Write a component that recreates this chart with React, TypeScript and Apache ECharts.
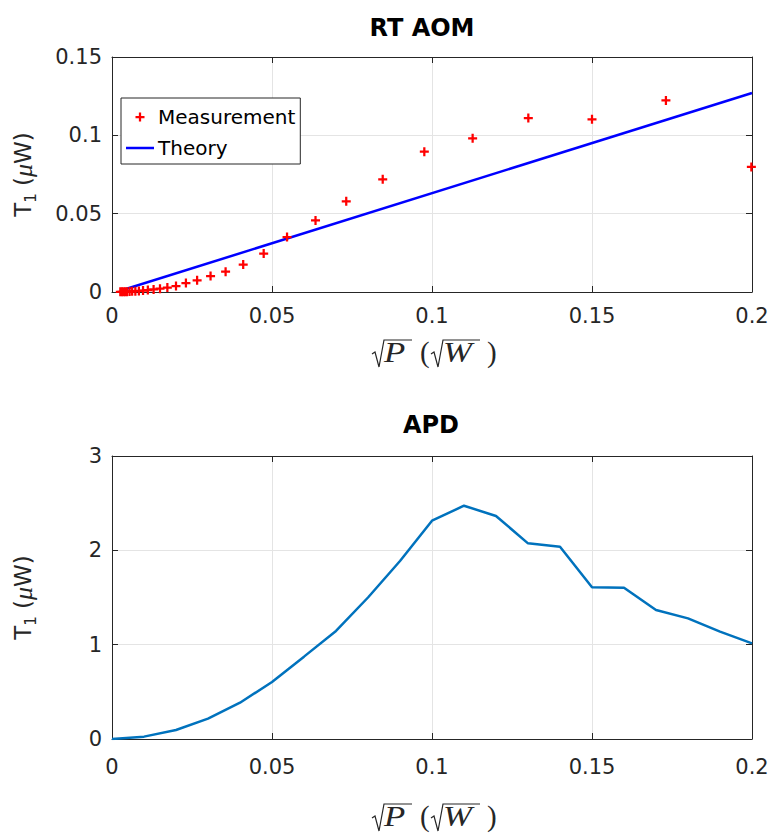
import React, { useEffect, useRef } from "react";
import * as echarts from "echarts";

// ---- Data ----
const measX = [0.0026, 0.0031, 0.0036, 0.0041, 0.0047, 0.0055, 0.0063, 0.0073, 0.0084, 0.0097, 0.0112, 0.013, 0.015, 0.0173, 0.02, 0.0231, 0.0266, 0.0308, 0.0355, 0.041, 0.0474, 0.0547, 0.0636, 0.0732, 0.0846, 0.0976, 0.1127, 0.1301, 0.15, 0.1731, 0.1998];
const measY = [0.0001, 0.0001, 0.0001, 0.0002, 0.0002, 0.0003, 0.0004, 0.0005, 0.0007, 0.0009, 0.0012, 0.0016, 0.0021, 0.0028, 0.0038, 0.0057, 0.0075, 0.0102, 0.013, 0.0175, 0.0245, 0.0351, 0.0457, 0.0579, 0.0719, 0.0896, 0.0981, 0.111, 0.1102, 0.1223, 0.0798];
const theoryX = [0.0026, 0.2];
const theoryY = [0.0008, 0.127];
const apdX = [0, 0.01, 0.02, 0.03, 0.04, 0.05, 0.06, 0.07, 0.08, 0.09, 0.1, 0.11, 0.12, 0.13, 0.14, 0.15, 0.16, 0.17, 0.18, 0.19, 0.2];
const apdY = [0, 0.025, 0.095, 0.216, 0.385, 0.604, 0.873, 1.145, 1.5, 1.887, 2.314, 2.473, 2.364, 2.074, 2.039, 1.608, 1.604, 1.367, 1.279, 1.138, 1.014];
const titles = ["RT AOM", "APD"];
const legendNames = ["Measurement", "Theory"];

const AX = "#262626";
const SANS = "'DejaVu Sans', 'Liberation Sans', Arial, sans-serif";
const SERIF = "'Liberation Serif', 'Times New Roman', serif";
const FS = 21;
const PLUS = "path://M3.75,0H6.25V3.75H10V6.25H6.25V10H3.75V6.25H0V3.75H3.75Z";
const LINEICON = "path://M0,0H28V2.5H0Z";

const yName = "{t|T}{s|1}{t| (}{m|μ}{t|W)}";
const yNameStyle = {
  color: AX,
  fontFamily: SANS,
  fontSize: 23,
  rich: {
    t: { fontSize: 23, fontFamily: SANS, color: AX, lineHeight: 30 },
    s: { fontSize: 15, fontFamily: SANS, color: AX, lineHeight: 15, verticalAlign: "bottom" },
    m: { fontSize: 26, fontFamily: SERIF, fontStyle: "italic", color: AX, lineHeight: 30 },
  },
};

function xAxes(gridIndex: number, labelMargin: number) {
  const common = {
    gridIndex,
    type: "value",
    min: 0,
    max: 0.2,
    interval: 0.05,
    axisLine: { show: true, onZero: false, lineStyle: { color: AX, width: 1 } },
    axisTick: { show: true, inside: true, length: 6, lineStyle: { color: AX } },
  };
  return [
    {
      ...common,
      position: "bottom",
      axisLabel: { fontSize: FS, color: AX, fontFamily: SANS, margin: labelMargin },
      splitLine: { show: true, lineStyle: { color: "#e4e4e4", width: 1 } },
    },
    {
      ...common,
      position: "top",
      axisLabel: { show: false },
      splitLine: { show: false },
    },
  ];
}

function yAxes(gridIndex: number, max: number, interval: number) {
  const common = {
    gridIndex,
    type: "value",
    min: 0,
    max,
    interval,
    axisLine: { show: true, onZero: false, lineStyle: { color: AX, width: 1 } },
    axisTick: { show: true, inside: true, length: 6, lineStyle: { color: AX } },
  };
  return [
    {
      ...common,
      position: "left",
      axisLabel: { fontSize: FS, color: AX, fontFamily: SANS, margin: 10 },
      splitLine: { show: true, lineStyle: { color: "#e4e4e4", width: 1 } },
      name: yName,
      nameLocation: "middle",
      nameRotate: 90,
      nameGap: 74,
      nameTextStyle: yNameStyle,
    },
    {
      ...common,
      position: "right",
      axisLabel: { show: false },
      splitLine: { show: false },
    },
  ];
}

function sqrtLabel(base: number) {
  const cy = base - 12;
  const top = base - 24;
  const txt = (x: number, s: string, italic: boolean) => ({
    type: "text",
    x,
    y: cy,
    scaleX: italic ? 1.2 : 1,
    style: {
      text: s,
      fill: AX,
      fontFamily: SERIF,
      fontSize: 29,
      fontStyle: italic ? "italic" : "normal",
      fontWeight: "normal",
      align: "left",
      verticalAlign: "middle",
    },
  });
  const rad = (x0: number, x1: number) => ({
    type: "polyline",
    shape: {
      points: [
        [x0, base - 10],
        [x0 + 3, base - 12],
        [x0 + 7, base + 3],
        [x0 + 12, top],
        [x1, top],
      ],
    },
    style: { stroke: AX, lineWidth: 1.2, fill: "none" },
  });
  return [
    rad(372, 412),
    txt(384, "P", true),
    txt(420, "(", false),
    rad(431, 480),
    txt(443, "W", true),
    txt(487, ")", false),
  ];
}

export default function App() {
  const ref = useRef<HTMLDivElement>(null);
  useEffect(() => {
    if (!ref.current) return;
    const chart = echarts.init(ref.current, null, { renderer: "svg" });
    const option = {
      animation: false,
      backgroundColor: "#ffffff",
      grid: [
        { left: 112, right: 20, top: 57, height: 235 },
        { left: 112, right: 20, top: 456, height: 283 },
      ],
      xAxis: [...xAxes(0, 13), ...xAxes(1, 17)],
      yAxis: [...yAxes(0, 0.15, 0.05), ...yAxes(1, 3, 1)],
      legend: {
        data: [
          { name: legendNames[0], icon: PLUS },
          { name: legendNames[1], icon: LINEICON },
        ],
        orient: "vertical",
        left: 121,
        top: 98,
        itemWidth: 28,
        itemHeight: 9,
        itemGap: 11,
        padding: [9, 5, 6, 5],
        borderColor: AX,
        borderWidth: 1,
        backgroundColor: "#ffffff",
        textStyle: { fontSize: 20, color: "#000", fontFamily: SANS, padding: [0, 0, 0, -1] },
      },
      series: [
        {
          name: legendNames[0],
          type: "scatter",
          xAxisIndex: 0,
          yAxisIndex: 0,
          symbol: PLUS,
          symbolSize: 9,
          itemStyle: { color: "#ff0000", opacity: 1 },
          data: measX.map((x, i) => [x, measY[i]]),
          z: 3,
        },
        {
          name: legendNames[1],
          type: "line",
          xAxisIndex: 0,
          yAxisIndex: 0,
          showSymbol: false,
          symbol: "none",
          lineStyle: { color: "#0000ff", width: 2.5 },
          itemStyle: { color: "#0000ff" },
          data: theoryX.map((x, i) => [x, theoryY[i]]),
          z: 2,
        },
        {
          name: "APD",
          type: "line",
          xAxisIndex: 2,
          yAxisIndex: 2,
          showSymbol: false,
          symbol: "none",
          lineStyle: { color: "#0072bd", width: 2.5 },
          data: apdX.map((x, i) => [x, apdY[i]]),
        },
      ],
      graphic: [
        {
          type: "text",
          x: 422,
          y: 28,
          style: { text: titles[0], fontFamily: SANS, fontSize: 24, fontWeight: "bold", fill: "#000", align: "center", verticalAlign: "middle" },
        },
        {
          type: "text",
          x: 431,
          y: 425,
          style: { text: titles[1], fontFamily: SANS, fontSize: 24, fontWeight: "bold", fill: "#000", align: "center", verticalAlign: "middle" },
        },
        ...sqrtLabel(364),
        ...sqrtLabel(828),
      ],
    };
    chart.setOption(option as any);
    return () => chart.dispose();
  }, []);
  return (
    <div
      ref={ref}
      style={{ position: "fixed", left: 0, top: 0, width: 772, height: 833, background: "#fff" }}
    />
  );
}
